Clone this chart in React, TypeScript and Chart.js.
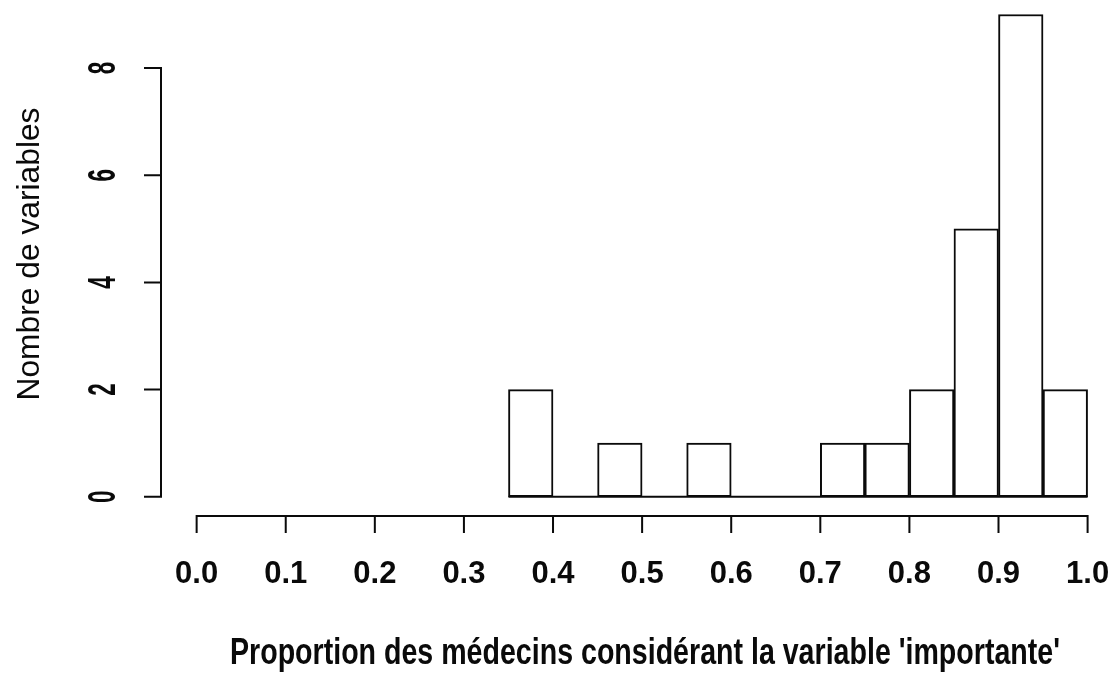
import React, { useEffect, useRef } from "react";
import { Chart, registerables } from "chart.js";

Chart.register(...registerables);

const binStarts = [0.35, 0.4, 0.45, 0.5, 0.55, 0.6, 0.65, 0.7, 0.75, 0.8, 0.85, 0.9, 0.95];
const binWidth = 0.05;
const counts = [2, 0, 1, 0, 1, 0, 0, 1, 1, 2, 5, 9, 2];
const xTicks = [0, 0.1, 0.2, 0.3, 0.4, 0.5, 0.6, 0.7, 0.8, 0.9, 1.0];
const xTickLabels = ["0.0", "0.1", "0.2", "0.3", "0.4", "0.5", "0.6", "0.7", "0.8", "0.9", "1.0"];
const yTicks = [0, 2, 4, 6, 8];
const yTickLabels = ["0", "2", "4", "6", "8"];
const xTitle = "Proportion des médecins considérant la variable 'importante'";
const yTitle = "Nombre de variables";

const INK = "#0a0a0a";

const axesPlugin = {
  id: "rAxes",
  afterDraw(chart: any) {
    const ctx = chart.ctx as CanvasRenderingContext2D;
    const xs = chart.scales.x;
    const ys = chart.scales.y;
    const area = chart.chartArea;
    const tick = 17;
    ctx.save();
    ctx.strokeStyle = INK;
    ctx.fillStyle = INK;
    ctx.lineWidth = 2;
    ctx.lineCap = "butt";

    // x axis
    const axY = area.bottom;
    const x0 = xs.getPixelForValue(xTicks[0]);
    const x1 = xs.getPixelForValue(xTicks[xTicks.length - 1]);
    ctx.beginPath();
    ctx.moveTo(x0 - 1, axY);
    ctx.lineTo(x1 + 1, axY);
    xTicks.forEach((v) => {
      const px = xs.getPixelForValue(v);
      ctx.moveTo(px, axY);
      ctx.lineTo(px, axY + tick);
    });
    ctx.stroke();
    ctx.font = "bold 31px 'Liberation Sans', Arial, sans-serif";
    ctx.textAlign = "center";
    ctx.textBaseline = "middle";
    xTicks.forEach((v, i) => {
      const px = xs.getPixelForValue(v);
      ctx.fillText(xTickLabels[i], px, axY + 58);
    });

    // y axis
    const axX = area.left;
    const yA = ys.getPixelForValue(yTicks[0]);
    const yB = ys.getPixelForValue(yTicks[yTicks.length - 1]);
    ctx.beginPath();
    ctx.moveTo(axX, yA + 1);
    ctx.lineTo(axX, yB - 1);
    yTicks.forEach((v) => {
      const py = ys.getPixelForValue(v);
      ctx.moveTo(axX, py);
      ctx.lineTo(axX - tick, py);
    });
    ctx.stroke();
    yTicks.forEach((v, i) => {
      const py = ys.getPixelForValue(v);
      ctx.save();
      ctx.translate(axX - 57, py);
      ctx.rotate(-Math.PI / 2);
      ctx.scale(0.75, 1.3);
      ctx.font = "bold 30px 'Liberation Sans', Arial, sans-serif";
      ctx.textAlign = "center";
      ctx.textBaseline = "middle";
      ctx.fillText(yTickLabels[i], 0, 0);
      ctx.restore();
    });

    // x title
    ctx.save();
    ctx.font = "bold 37px 'Liberation Sans', Arial, sans-serif";
    const w = ctx.measureText(xTitle).width;
    const target = 830;
    const cx = 645;
    ctx.translate(cx, 654);
    ctx.scale(target / w, 1);
    ctx.textAlign = "center";
    ctx.textBaseline = "middle";
    ctx.fillText(xTitle, 0, 0);
    ctx.restore();

    // y title
    ctx.save();
    ctx.font = "32px 'Liberation Sans', Arial, sans-serif";
    const wy = ctx.measureText(yTitle).width;
    ctx.translate(30, 254);
    ctx.rotate(-Math.PI / 2);
    ctx.scale(293 / wy, 1);
    ctx.textAlign = "center";
    ctx.textBaseline = "middle";
    ctx.fillText(yTitle, 0, 0);
    ctx.restore();

    ctx.restore();
  },
};

export default function App() {
  const ref = useRef<HTMLCanvasElement | null>(null);
  useEffect(() => {
    document.body.style.margin = "0";
    const canvas = ref.current!;
    const barData = binStarts.map((s, i) => ({ x: s + binWidth / 2, y: counts[i] }));
    const baseline = [
      { x: binStarts[0], y: 0 },
      { x: binStarts[binStarts.length - 1] + binWidth, y: 0 },
    ];
    const chart = new Chart(canvas, {
      type: "bar",
      data: {
        datasets: [
          {
            type: "line" as any,
            data: baseline as any,
            borderColor: INK,
            borderWidth: 2,
            pointRadius: 0,
            fill: false,
          } as any,
          {
            type: "bar",
            data: barData as any,
            backgroundColor: "#ffffff",
            borderColor: INK,
            borderWidth: 2,
            borderSkipped: false,
            barPercentage: 1,
            categoryPercentage: 1,
            grouped: false,
          } as any,
        ],
      },
      options: {
        responsive: false,
        animation: false,
        devicePixelRatio: 1,
        layout: { padding: { left: 161, right: 0, top: 0, bottom: 161 } },
        plugins: { legend: { display: false }, tooltip: { enabled: false } },
        scales: {
          x: { type: "linear", min: -0.04, max: 1.033, offset: false, display: false },
          y: { type: "linear", min: -0.36, max: 9.27, display: false },
        },
      },
      plugins: [axesPlugin],
    });
    return () => chart.destroy();
  }, []);
  return (
    <canvas
      ref={ref}
      width={1117}
      height={677}
      style={{ position: "fixed", left: 0, top: 0, width: 1117, height: 677, background: "#fff" }}
    />
  );
}
